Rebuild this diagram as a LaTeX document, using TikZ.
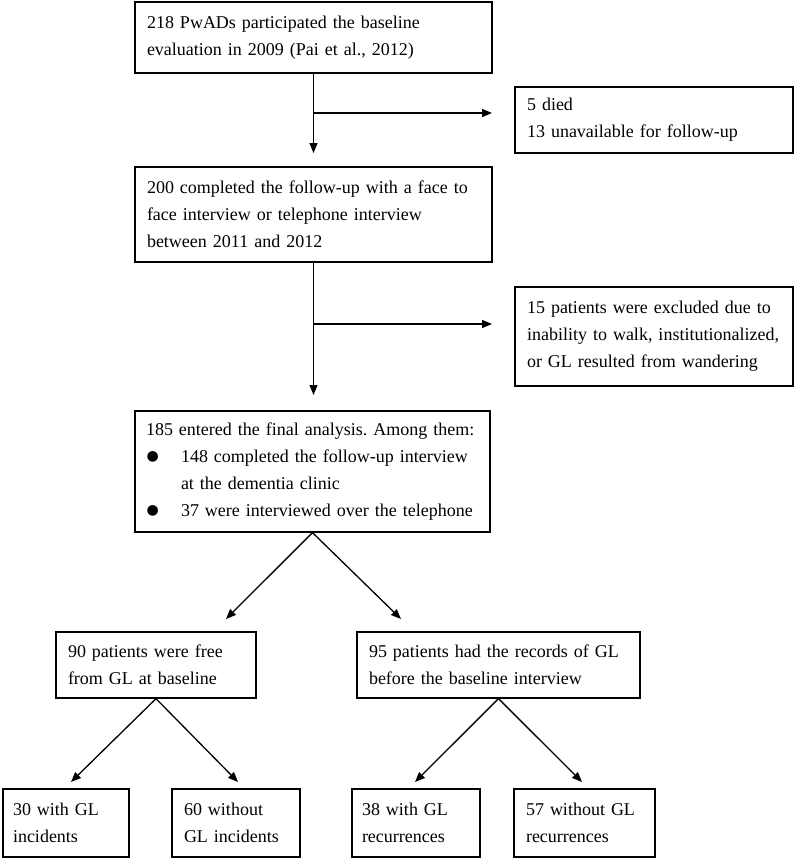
\documentclass[tikz,border=0pt]{standalone}
\usepackage{fontspec}
\setmainfont{Liberation Serif}
\newfontfamily\dejavu{DejaVu Sans}
\usetikzlibrary{arrows.meta}
\newcommand{\blt}{\makebox[35pt][l]{\hspace*{0.5pt}\raisebox{2pt}{\dejavu\fontsize{14}{14}\selectfont ●}}}
\tikzset{
  box/.style={draw, line width=1.3pt, rectangle, inner xsep=12pt, inner ysep=0pt,
    align=left, font=\fontsize{18}{27}\selectfont\frenchspacing, anchor=center},
  arr/.style={-{Triangle[length=10pt,width=8pt]}, line width=1.3pt},
  ln/.style={line width=1.3pt}
}
\begin{document}
\begin{tikzpicture}[x=1pt,y=-1pt]
\useasboundingbox (0,0) rectangle (796,859);
% main column
\node[box, text width=333pt, minimum height=71pt] (n1) at (313.5,37.5)
  {218 PwADs participated the baseline\\evaluation in 2009 (Pai et al., 2012)};
\node[box, text width=254pt, minimum height=66pt] (s1) at (654,120)
  {5 died\\13 unavailable for follow-up};
\node[box, text width=333pt, minimum height=95pt] (n2) at (313.5,214.5)
  {200 completed the follow-up with a face to\\face interview or telephone interview\\between 2011 and 2012};
\node[box, text width=254pt, minimum height=99pt] (s2) at (654,336.5)
  {15 patients were excluded due to\\inability to walk, institutionalized,\\or GL resulted from wandering};
\node[box, inner xsep=11pt, text width=333pt, minimum height=121pt] (n3) at (312.5,471.5)
  {185 entered the final analysis. Among them:\\\blt148 completed the follow-up interview\\\hspace*{35pt}at the dementia clinic\\\blt37 were interviewed over the telephone};
% second level
\node[box, text width=176pt, minimum height=66pt] (n4) at (156,665)
  {90 patients were free\\from GL at baseline};
\node[box, text width=259pt, minimum height=66pt] (n5) at (498.5,665)
  {95 patients had the records of GL\\before the baseline interview};
% bottom
\node[box, inner xsep=10pt, text width=106pt, minimum height=68pt] (b1) at (66,823)
  {30 with GL\\incidents};
\node[box, text width=104pt, minimum height=68pt] (b2) at (236,823)
  {60 without\\GL incidents};
\node[box, inner xsep=10pt, text width=108pt, minimum height=68pt] (b3) at (416,823)
  {38 with GL\\recurrences};
\node[box, text width=117pt, minimum height=68pt] (b4) at (584.5,823)
  {57 without GL\\recurrences};
% connectors
\coordinate (j1) at (313.5,113);
\coordinate (t1) at (492,113);
\coordinate (d1) at (313.5,153);
\draw[ln] (n1.south) -- (j1);
\draw[arr] (j1) -- (d1);
\draw[arr] (j1) -- (t1);
\coordinate (j2) at (313.5,324);
\coordinate (t2) at (492,324);
\coordinate (d2) at (313.5,395);
\draw[ln] (n2.south) -- (j2);
\draw[arr] (j2) -- (d2);
\draw[arr] (j2) -- (t2);
\coordinate (a4) at (226,619);
\coordinate (a5) at (401,619);
\draw[arr] (n3.south) -- (a4);
\draw[arr] (n3.south) -- (a5);
\coordinate (c1) at (71,782);
\coordinate (c2) at (238,782);
\coordinate (c3) at (415,782);
\coordinate (c4) at (582,782);
\draw[arr] (n4.south) -- (c1);
\draw[arr] (n4.south) -- (c2);
\draw[arr] (n5.south) -- (c3);
\draw[arr] (n5.south) -- (c4);
\end{tikzpicture}
\end{document}
